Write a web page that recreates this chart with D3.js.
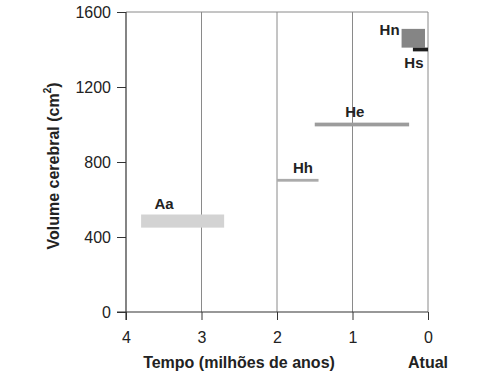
<!DOCTYPE html>
<html>
<head>
<meta charset="utf-8">
<script src="https://cdn.jsdelivr.net/npm/d3@7"></script>
<style>
  html, body { margin: 0; padding: 0; background: #fff; }
  svg { display: block; font-family: "Liberation Sans", Arial, Helvetica, sans-serif; }
</style>
</head>
<body>
<svg id="chart" width="488" height="381"></svg>
<script>
// ---- data ----
const species   = ["Aa", "Hh", "He", "Hn", "Hs"];
const timeStart = [3.8, 2.0, 1.5, 0.35, 0.2];   // million years ago (older end)
const timeEnd   = [2.7, 1.45, 0.25, 0.04, 0.0]; // million years ago (younger end)
const volMin    = [450, 695, 990, 1410, 1390];  // cm3
const volMax    = [520, 710, 1010, 1510, 1410]; // cm3
const xTicks = [4, 3, 2, 1, 0];
const yTicks = [0, 400, 800, 1200, 1600];
const xTitle = "Tempo (milhões de anos)";
const nowLabel = "Atual";
const yTitle = "Volume cerebral (cm";

// ---- layout ----
const svg = d3.select("#chart");
const x = d3.scaleLinear().domain([4, 0]).range([126, 428]);
const y = d3.scaleLinear().domain([0, 1600]).range([312, 12]);
const fills = { Aa: "#d3d3d3", Hh: "#ababab", He: "#9c9c9c", Hn: "#858585", Hs: "#1e1e1e" };

// vertical gridlines (including right border at 0)
svg.append("g").selectAll("line").data(xTicks.filter(d => d !== 4)).join("line")
  .attr("x1", d => x(d)).attr("x2", d => x(d))
  .attr("y1", y(1600)).attr("y2", y(0))
  .attr("stroke", "#8a8a8a").attr("stroke-width", 1);
// top border
svg.append("line")
  .attr("x1", x(4)).attr("x2", x(0)).attr("y1", y(1600)).attr("y2", y(1600))
  .attr("stroke", "#8a8a8a").attr("stroke-width", 1);

// axes
const yAxis = svg.append("g").attr("transform", `translate(${x(4)},0)`)
  .call(d3.axisLeft(y).tickValues(yTicks).tickSize(9).tickPadding(6).tickFormat(d3.format("d")));
const xAxis = svg.append("g").attr("transform", `translate(0,${y(0)})`)
  .call(d3.axisBottom(x).tickValues(xTicks).tickSize(8).tickPadding(12).tickFormat(d3.format("d")));
[yAxis, xAxis].forEach(g => {
  g.select(".domain").attr("stroke", "#333").attr("stroke-width", 1.2);
  g.selectAll(".tick line").attr("stroke", "#333").attr("stroke-width", 1);
  g.selectAll(".tick text").attr("fill", "#222").style("font-size", "16px")
    .style("font-family", '"Liberation Sans", Arial, sans-serif');
});
xAxis.select(".domain").attr("d", `M${x(4) - 9},0H${x(0)}`);
yAxis.select(".domain").attr("d", `M0,${y(1600)}V${y(0) + 8}`);

// bars
const rows = species.map((s, i) => ({ s, t0: timeStart[i], t1: timeEnd[i], v0: volMin[i], v1: volMax[i] }));
svg.append("g").selectAll("rect").data(rows).join("rect")
  .attr("x", d => x(d.t0))
  .attr("width", d => x(d.t1) - x(d.t0))
  .attr("y", d => y(d.v1))
  .attr("height", d => y(d.v0) - y(d.v1))
  .attr("fill", d => fills[d.s]);

// species labels (offsets in pixels relative to each bar)
const labelPos = {
  Aa: d => [x(d.t0) + 23, y(d.v1) - 11, "middle"],
  Hh: d => [x(d.t0) + 26, y(d.v1) - 11, "middle"],
  He: d => [x(d.t0) + 40, y(d.v1) - 11, "middle"],
  Hn: d => [x(d.t0) - 2, y(d.v1) + 1, "end"],
  Hs: d => [x(d.t0) + 1, y(d.v0) + 11, "middle"]
};
svg.append("g").selectAll("text").data(rows).join("text")
  .each(function (d) {
    const [px, py, anchor] = labelPos[d.s](d);
    d3.select(this).attr("x", px).attr("y", py).attr("text-anchor", anchor);
  })
  .attr("dominant-baseline", "central")
  .attr("font-size", 15).attr("font-weight", "bold").attr("fill", "#222")
  .text(d => d.s);

// axis titles
svg.append("text").attr("x", 239).attr("y", 362)
  .attr("text-anchor", "middle").attr("dominant-baseline", "central")
  .attr("font-size", 16).attr("font-weight", "bold").attr("fill", "#222")
  .text(xTitle);
svg.append("text").attr("x", x(0)).attr("y", 362)
  .attr("text-anchor", "middle").attr("dominant-baseline", "central")
  .attr("font-size", 16).attr("font-weight", "bold").attr("fill", "#222")
  .text(nowLabel);
const yt = svg.append("text")
  .attr("transform", "translate(53,166) rotate(-90)")
  .attr("text-anchor", "middle").attr("dominant-baseline", "central")
  .attr("font-size", 16).attr("font-weight", "bold").attr("fill", "#222");
yt.append("tspan").text(yTitle);
yt.append("tspan").attr("font-size", 10).attr("dy", -6).text("2");
yt.append("tspan").attr("dy", 6).text(")");
</script>
</body>
</html>
